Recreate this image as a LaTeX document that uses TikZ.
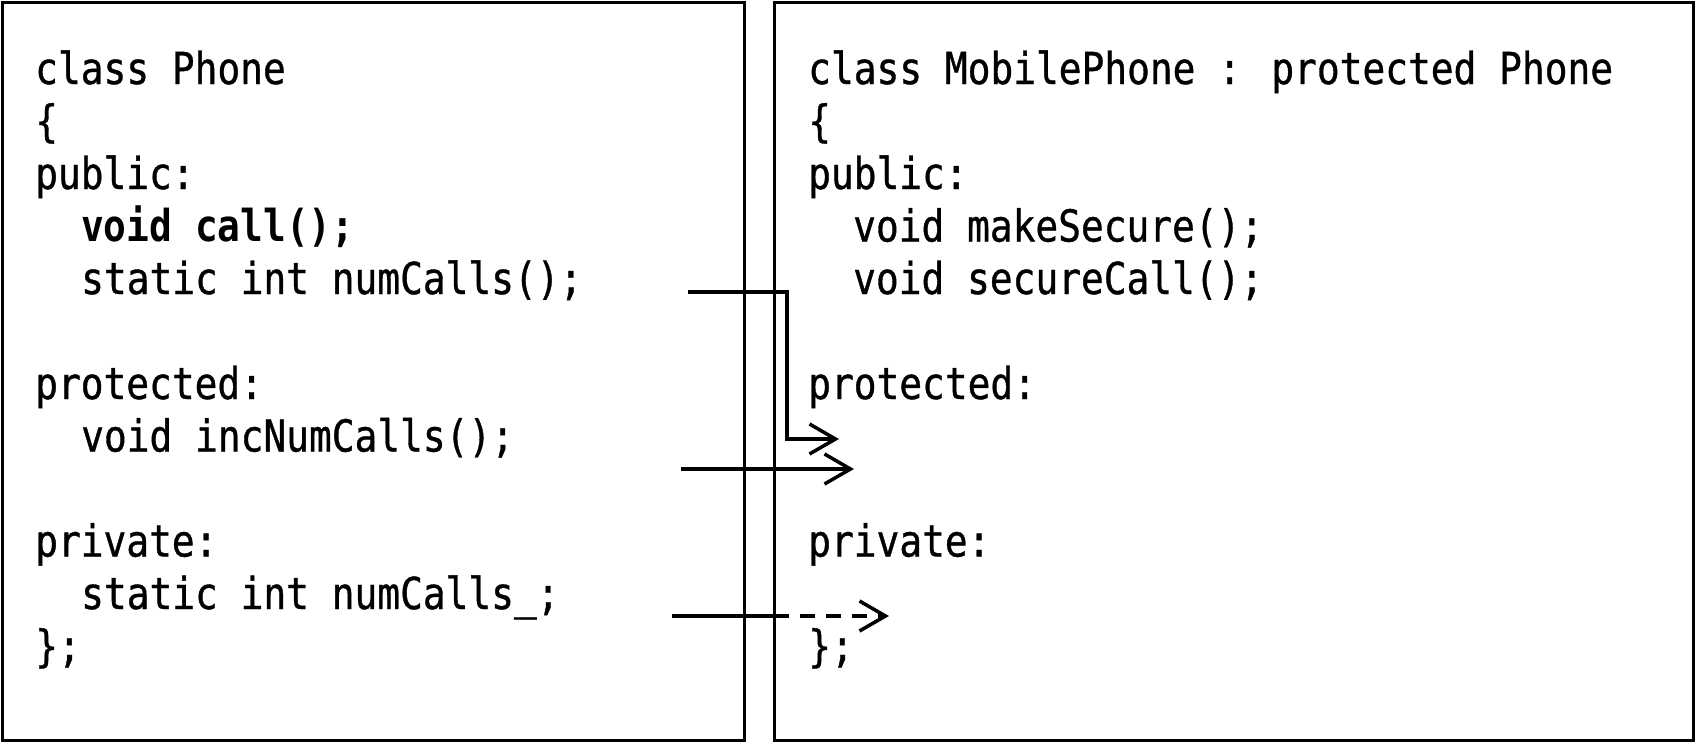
\documentclass[tikz,border=0pt]{standalone}
\usepackage{fontspec}
\newfontfamily\codefont[FakeStretch=0.86, UprightFeatures={FakeBold=0.8}]{DejaVu Sans Mono}
\usetikzlibrary{arrows.meta}
\tikzstyle{box}=[draw, line width=3pt, inner sep=0pt, outer sep=0pt]
\tikzstyle{code}=[anchor=base west, inner sep=0pt, font=\codefont\fontsize{44}{52}\selectfont]
\tikzstyle{edge}=[draw, line width=3.5pt, -{Straight Barb[length=26pt,width=30pt]}]
\tikzstyle{link}=[draw, line width=3.5pt]

\begin{document}
\begin{tikzpicture}[x=1pt, y=-1pt]
    \useasboundingbox (0,0) rectangle (1696,742);

    \node[box, minimum width=742pt, minimum height=738pt] (phone) at (373,371) {};
    \node[box, minimum width=919pt, minimum height=738pt] (mobile) at (1233.5,371) {};

    % Code of the base class
    \foreach \x/\n/\txt in {
                            35/1/class Phone,
                            35/2/\{,
                            35/3/public:,
                            81/4/{\bfseries void call();},
                            81/5/static int numCalls();,
                            35/7/protected:,
                            81/8/void incNumCalls();,
                            35/10/private:,
                            81/11/static int numCalls\_;,
                            35/12/\};}
        \node[code] (L\n) at (\x, {84+(\n-1)*52.5}) {\txt};

    % Code of the derived class
    \foreach \x/\n/\txt in {
                            808/1/class MobilePhone : protected Phone,
                            808/2/\{,
                            808/3/public:,
                            853/4/void makeSecure();,
                            853/5/void secureCall();,
                            808/7/protected:,
                            808/10/private:,
                            808/12/\};}
        \node[code] (R\n) at (\x, {84+(\n-1)*52.5}) {\txt};

    % Access arrows
    \coordinate (pubS) at (688,292);
    \coordinate (pubK) at (787,439);
    \coordinate (pubE) at (839,439);
    \coordinate (proS) at (681,469);
    \coordinate (proE) at (854,469);
    \coordinate (priS) at (672,616);
    \coordinate (priM) at (774,616);
    \coordinate (priE) at (889,616);

    \path[edge] (pubS) -| (pubK) -- (pubE);
    \path[edge] (proS) -- (proE);
    \path[link] (priS) -- (priM);
    \path[edge, dash pattern=on 15pt off 11pt] (priM) -- (priE);

\end{tikzpicture}
\end{document}
